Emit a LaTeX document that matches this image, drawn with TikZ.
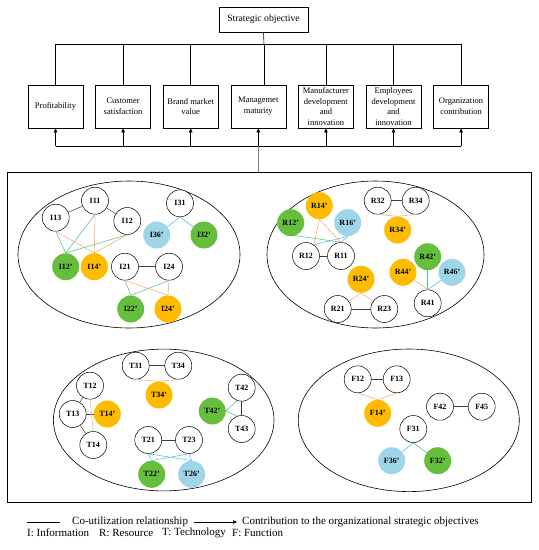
\documentclass[tikz,border=0pt]{standalone}
\usepackage{fontspec}
\setmainfont{Liberation Serif}
\usetikzlibrary{arrows.meta}
\definecolor{gfill}{RGB}{101,190,60}
\definecolor{ofill}{RGB}{255,187,0}
\definecolor{cfill}{RGB}{158,213,232}
\definecolor{gline}{RGB}{90,195,150}
\definecolor{oline}{RGB}{245,175,125}
\definecolor{cline}{RGB}{95,195,225}
\definecolor{kline}{RGB}{60,60,60}
\begin{document}
\begin{tikzpicture}[x=1pt,y=-1pt,
  box/.style={draw, line width=0.6pt, minimum width=55pt, minimum height=43pt, inner sep=1pt, align=center, font=\fontsize{8.5}{10.8}\selectfont},
  topbox/.style={draw, line width=0.6pt, minimum width=89pt, minimum height=25pt, inner sep=1pt, font=\fontsize{9.7}{12}\selectfont},
  bigbox/.style={draw, line width=0.6pt, minimum width=524pt, minimum height=330pt, inner sep=0pt},
  wn/.style={circle, draw, line width=0.5pt, fill=white, minimum size=27pt, inner sep=0pt, font=\fontsize{8}{9}\selectfont\bfseries},
  gn/.style={circle, fill=gfill, minimum size=27pt, inner sep=0pt, font=\fontsize{8}{9}\selectfont\bfseries},
  on/.style={circle, fill=ofill, minimum size=27pt, inner sep=0pt, font=\fontsize{8}{9}\selectfont\bfseries},
  cn/.style={circle, fill=cfill, minimum size=27pt, inner sep=0pt, font=\fontsize{8}{9}\selectfont\bfseries},
  kl/.style={draw=kline, line width=0.5pt},
  gl/.style={draw=gline, line width=0.6pt},
  ol/.style={draw=oline, line width=0.6pt},
  cl/.style={draw=cline, line width=0.6pt},
  conn/.style={draw=black, line width=0.6pt},
  uparrow/.style={conn, -{Triangle[length=4pt,width=3.5pt]}},
  ell/.style={draw, line width=0.6pt},
  legtext/.style={anchor=west, inner sep=0pt, font=\fontsize{11}{13}\selectfont}
]
\useasboundingbox (0,0) rectangle (539,550);

% top part
\node[topbox] (SO) at (263.5,19.5) {Strategic objective};
\node[box] (B1) at (55.5,106.5) {Profitability};
\node[box] (B2) at (123.1,106.5) {Customer\\satisfaction};
\node[box] (B3) at (190.7,106.5) {Brand market\\value};
\node[box] (B4) at (258.3,106.5) {Managemet\\maturity};
\node[box] (B5) at (325.9,106.5) {Manufacturer\\development\\and\\innovation};
\node[box] (B6) at (393.5,106.5) {Employees\\development\\and\\innovation};
\node[box] (B7) at (461.1,106.5) {Organization\\contribution};

\coordinate (hb) at (264,44);
\draw[conn] (SO.south) -- (hb);
\draw[conn] (B1.north |- hb) -- (B7.north |- hb);
\foreach \b in {B1,B2,B3,B5,B6,B7} \draw[conn] (\b.north |- hb) -- (\b.north);
\draw[conn] (hb) -- (hb |- B4.north);

\node[bigbox] (BB) at (269,337) {};
\coordinate (lb) at (259,146);
\draw[conn] (B1.south |- lb) -- (B7.south |- lb);
\foreach \b in {B1,B2,B3,B4,B5,B6,B7} \draw[uparrow] (\b.south |- lb) -- (\b.south);
\draw[draw=gray, line width=0.6pt] (B4.south |- lb) -- (B4.south |- BB.north);

% ellipses
\draw[ell] (129,254.5) ellipse [x radius=111pt, y radius=73.5pt];
\draw[ell] (375.5,254.5) ellipse [x radius=108.5pt, y radius=73.5pt];
\draw[ell] (163.7,420) ellipse [x radius=110.3pt, y radius=70.9pt];
\draw[ell] (408.8,420.3) ellipse [x radius=110.5pt, y radius=71.3pt];

% I group
\node[wn] (I11) at (95,200.7) {I11};
\node[wn] (I13) at (55.7,217.7) {I13};
\node[wn] (I12) at (127.3,221) {I12};
\node[wn] (I31) at (180,203.3) {I31};
\node[cn] (I36p) at (156.7,235) {I36'};
\node[gn] (I32p) at (204,235) {I32'};
\node[gn] (I12p) at (65.7,266.7) {I12'};
\node[on] (I14p) at (94.3,266.7) {I14'};
\node[wn] (I21) at (125,266.7) {I21};
\node[wn] (I24) at (169,266.7) {I24};
\node[gn] (I22p) at (130.7,309) {I22'};
\node[on] (I24p) at (168,309) {I24'};

\draw[kl] (I13) -- (I11);
\draw[kl] (I11) -- (I12);
\draw[kl] (I21) -- (I24);
\foreach \a in {I13,I11,I12} {
  \draw[gl] (\a.south) -- (I12p.north);
  \draw[ol] (\a.south) -- (I14p.north);
}
\draw[cl] (I31.south) -- (I36p);
\draw[gl] (I31.south) -- (I32p);
\foreach \a in {I21,I24} {
  \draw[gl] (\a.south) -- (I22p.north);
  \draw[ol] (\a.south) -- (I24p.north);
}

% R group
\node[on] (R14p) at (319.3,205.7) {R14'};
\node[gn] (R12p) at (290.7,222.7) {R12'};
\node[cn] (R16p) at (347.7,222.7) {R16'};
\node[wn] (R12) at (306,256) {R12};
\node[wn] (R11) at (341,256) {R11};
\node[wn] (R32) at (377.7,200.7) {R32};
\node[wn] (R34) at (415.7,200.7) {R34};
\node[on] (R34p) at (397.7,230) {R34'};
\node[gn] (R42p) at (427.7,256.7) {R42'};
\node[cn] (R46p) at (452,272.3) {R46'};
\node[on] (R44p) at (403,272.3) {R44'};
\node[wn] (R41) at (427.7,303.3) {R41};
\node[on] (R24p) at (361,279.3) {R24'};
\node[wn] (R21) at (337.7,309) {R21};
\node[wn] (R23) at (384.3,309) {R23};

\draw[kl] (R12) -- (R11);
\draw[kl] (R32) -- (R34);
\draw[kl] (R21) -- (R23);
\draw[ol] (R14p.south) -- (R12.55);
\draw[ol] (R14p.south) -- (R11.north);
\draw[gl] (R12p.-70) -- (R11.north);
\draw[cl] (R16p.south) -- (R12.55);
\draw[cl] (R16p.south) -- (R11.north);
\draw[ol] (R32.south) -- (R34p.north);
\draw[ol] (R34.south) -- (R34p.north);
\draw[gl] (R42p.south) -- (R41.north);
\draw[ol] (R44p) -- (R41.north);
\draw[cl] (R46p) -- (R41.north);
\draw[ol] (R24p.south) -- (R21);
\draw[ol] (R24p.south) -- (R23);

% T group
\node[wn] (T31) at (135.7,365.7) {T31};
\node[wn] (T34) at (178.3,365.7) {T34};
\node[on] (T34p) at (159,395) {T34'};
\node[wn] (T12) at (90,385.7) {T12};
\node[wn] (T13) at (72.7,414) {T13};
\node[on] (T14p) at (107.3,414) {T14'};
\node[wn] (T14) at (93.3,445) {T14};
\node[wn] (T42) at (241.7,387.7) {T42};
\node[wn] (T43) at (241.7,429) {T43};
\node[gn] (T42p) at (212.3,411) {T42'};
\node[wn] (T21) at (148.3,440) {T21};
\node[wn] (T23) at (189,440) {T23};
\node[gn] (T22p) at (151.7,474.3) {T22'};
\node[cn] (T26p) at (191.7,474.3) {T26'};

\draw[kl] (T31) -- (T34);
\draw[kl] (T12) -- (T13);
\draw[kl] (T13) -- (T14);
\draw[kl] (T13) -- (T14p);
\draw[kl] (T42.south) -- (T43.north);
\draw[kl] (T21) -- (T23);
\draw[ol] (T31.south) -- (T34p.north);
\draw[ol] (T34.south) -- (T34p.north);
\draw[ol] (T12.south) -- (T14.north);
\draw[gl] (T42p.east) -- (T42.-110);
\draw[gl] (T42p.east) -- (T43.110);
\foreach \a in {T21,T23} {
  \draw[cl] (\a.south) -- (T22p.north);
  \draw[cl] (\a.south) -- (T26p.north);
}

% F group
\node[wn] (F12) at (357.7,379.3) {F12};
\node[wn] (F13) at (396.7,379.3) {F13};
\node[on] (F14p) at (377.7,413.3) {F14'};
\node[wn] (F42) at (440,406.7) {F42};
\node[wn] (F45) at (481.7,406.7) {F45};
\node[wn] (F31) at (413.3,429) {F31};
\node[cn] (F36p) at (391.7,460.7) {F36'};
\node[gn] (F32p) at (437.7,460.7) {F32'};

\draw[kl] (F12) -- (F13);
\draw[kl] (F42) -- (F45);
\draw[ol] (F12.south) -- (F14p.north);
\draw[ol] (F13.south) -- (F14p.north);
\draw[cl] (F31.south) -- (F36p);
\draw[gl] (F31.south) -- (F32p);

% legend
\coordinate (L1a) at (27,522);
\coordinate (L1b) at (60,522);
\draw[conn] (L1a) -- (L1b);
\node[legtext] (LT1) at (72,522) {Co-utilization relationship};
\coordinate (L2a) at (194,522);
\coordinate (L2b) at (237,522);
\draw[conn, -{Triangle[length=4pt,width=3.5pt]}] (L2a) -- (L2b);
\node[legtext] (LT2) at (242,522) {Contribution to the organizational strategic objectives};
\node[legtext] (LI) at (27,533) {I: Information};
\node[legtext] (LR) at (99,533) {R: Resource};
\node[legtext] (LTt) at (162,533) {T: Technology};
\node[legtext] (LF) at (232,533) {F: Function};
\end{tikzpicture}
\end{document}
